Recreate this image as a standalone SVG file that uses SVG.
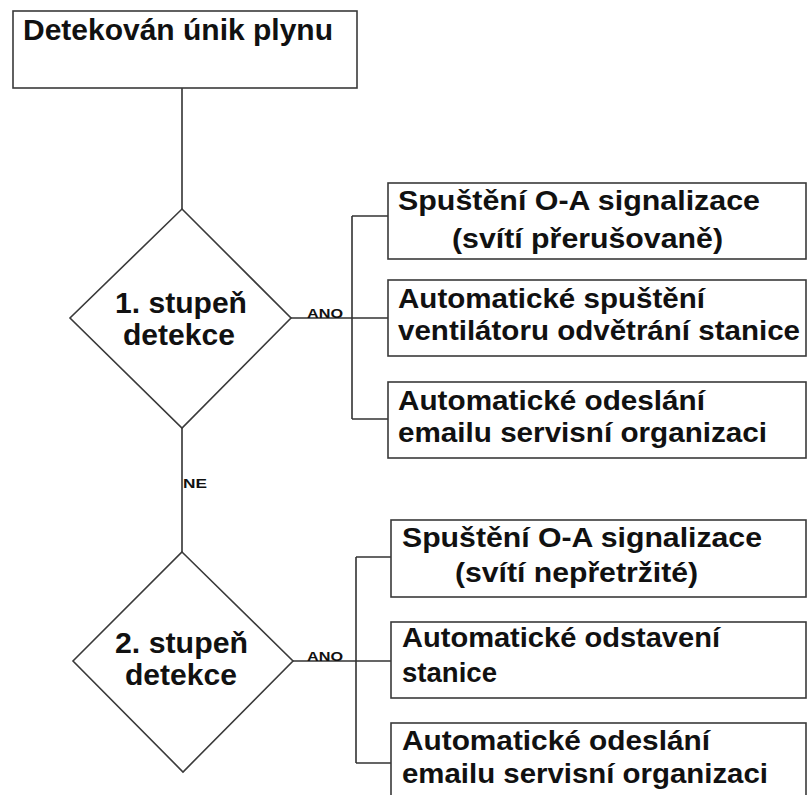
<svg xmlns="http://www.w3.org/2000/svg" width="808" height="795" viewBox="0 0 808 795">
<style>
.box{fill:#fff;stroke:#3a3a3a;stroke-width:1.6}
.ln{fill:none;stroke:#333;stroke-width:1.6}
.t{font-family:"Liberation Sans",Arial,sans-serif;font-weight:bold;fill:#111}
.b{font-size:28.5px}
.d{font-size:30px}
.s{font-size:12.5px}
</style>
<rect width="808" height="795" fill="#fff"/>
<g id="connectors">
<path class="ln" d="M182,88 V209"/>
<path class="ln" d="M182,428 V552"/>
<path class="ln" d="M290,318 H388 M352,216 V419 M352,216 H388 M352,419 H388"/>
<path class="ln" d="M293,661 H391 M356,557 V763 M356,557 H391 M356,763 H391"/>
<text class="t s" x="307" y="318" textLength="36" lengthAdjust="spacingAndGlyphs">ANO</text>
<text class="t s" x="183" y="488" textLength="24" lengthAdjust="spacingAndGlyphs">NE</text>
<text class="t s" x="307" y="661" textLength="36" lengthAdjust="spacingAndGlyphs">ANO</text>
</g>
<g id="start">
<rect class="box" x="13" y="11" width="344" height="77"/>
<text class="t d" x="23" y="40" font-size="28.5" textLength="310" lengthAdjust="spacingAndGlyphs">Detekován únik plynu</text>
</g>
<g id="stage1">
<polygon class="box" points="182,209 291,318 182,428 70,318"/>
<text class="t d" x="115" y="313" textLength="132" lengthAdjust="spacingAndGlyphs">1. stupeň</text>
<text class="t d" x="123" y="345" textLength="112" lengthAdjust="spacingAndGlyphs">detekce</text>
</g>
<g id="s1a">
<rect class="box" x="388" y="183" width="418" height="76"/>
<text class="t b" x="398" y="210" textLength="362" lengthAdjust="spacingAndGlyphs">Spuštění O-A signalizace</text>
<text class="t b" x="452" y="248" textLength="271" lengthAdjust="spacingAndGlyphs">(svítí přerušovaně)</text>
</g>
<g id="s1b">
<rect class="box" x="388" y="280" width="418" height="76"/>
<text class="t b" x="398" y="308" textLength="307" lengthAdjust="spacingAndGlyphs">Automatické spuštění</text>
<text class="t b" x="398" y="340" textLength="402" lengthAdjust="spacingAndGlyphs">ventilátoru odvětrání stanice</text>
</g>
<g id="s1c">
<rect class="box" x="388" y="382" width="418" height="76"/>
<text class="t b" x="398" y="410" textLength="307" lengthAdjust="spacingAndGlyphs">Automatické odeslání</text>
<text class="t b" x="398" y="442" textLength="369" lengthAdjust="spacingAndGlyphs">emailu servisní organizaci</text>
</g>
<g id="stage2">
<polygon class="box" points="182,552 293,661 183,772 73,661"/>
<text class="t d" x="115" y="653" textLength="133" lengthAdjust="spacingAndGlyphs">2. stupeň</text>
<text class="t d" x="125" y="685" textLength="112" lengthAdjust="spacingAndGlyphs">detekce</text>
</g>
<g id="s2a">
<rect class="box" x="391" y="520" width="415" height="77"/>
<text class="t b" x="402" y="547" textLength="360" lengthAdjust="spacingAndGlyphs">Spuštění O-A signalizace</text>
<text class="t b" x="455" y="582" textLength="243" lengthAdjust="spacingAndGlyphs">(svítí nepřetržité)</text>
</g>
<g id="s2b">
<rect class="box" x="391" y="622" width="415" height="76"/>
<text class="t b" x="402" y="647" textLength="318" lengthAdjust="spacingAndGlyphs">Automatické odstavení</text>
<text class="t b" x="402" y="682" textLength="95" lengthAdjust="spacingAndGlyphs">stanice</text>
</g>
<g id="s2c">
<rect class="box" x="391" y="723" width="415" height="90"/>
<text class="t b" x="402" y="750" textLength="308" lengthAdjust="spacingAndGlyphs">Automatické odeslání</text>
<text class="t b" x="402" y="783" textLength="366" lengthAdjust="spacingAndGlyphs">emailu servisní organizaci</text>
</g>
</svg>
